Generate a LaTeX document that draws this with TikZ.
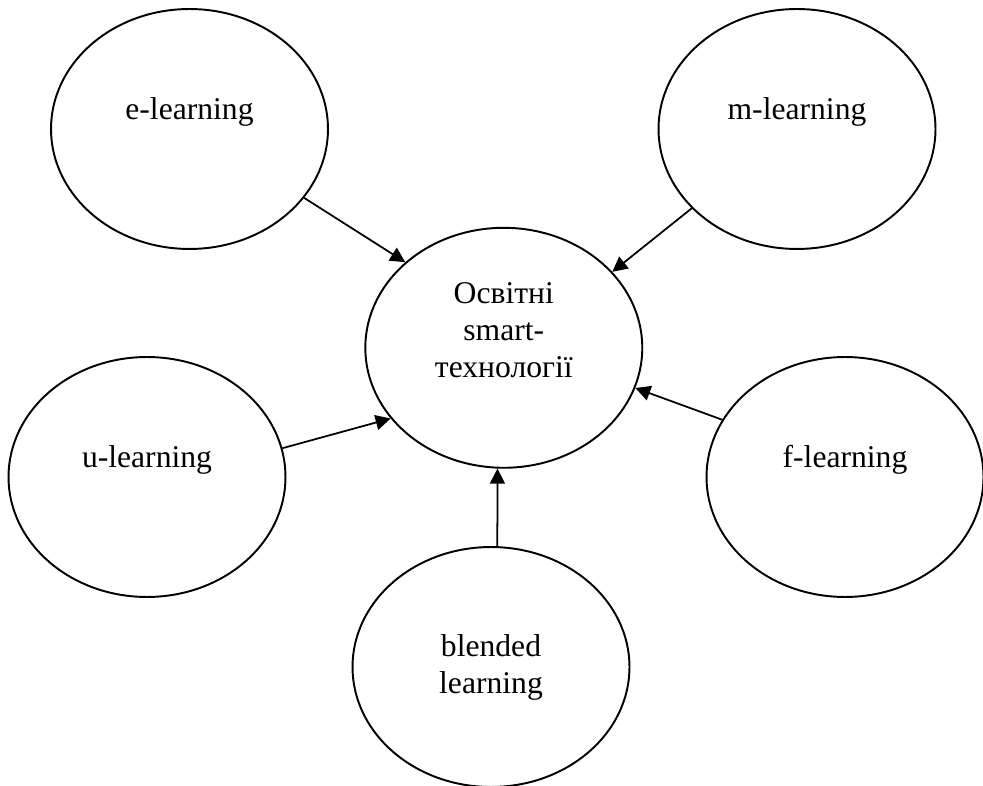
\documentclass[tikz,border=0pt]{standalone}
\usepackage{fontspec}
\setmainfont{Liberation Serif}
\usetikzlibrary{arrows.meta, shapes.geometric}

\begin{document}
\begin{tikzpicture}[
    x=0.02cm, y=-0.02cm,
    bub/.style={draw, ellipse, line width=1.1pt, minimum width=5.54cm, minimum height=4.8cm, inner sep=0pt, align=center, font=\fontsize{18}{21}\selectfont},
    lift/.style={text height=0pt, text depth=10.8pt},
    arrow/.style={-{Triangle[length=0.3cm, width=0.3cm]}, line width=1pt}
]
\useasboundingbox (0,0) rectangle (983,786);
\node[bub, text height=38pt, text depth=4pt] (c) at (503.8,347.8) {Освітні\\smart-\\технології};
\node[bub, lift] (e) at (189.5,129) {e-learning};
\node[bub, lift] (m) at (797,129) {m-learning};
\node[bub, lift] (u) at (147,477) {u-learning};
\node[bub, lift] (f) at (845,477) {f-learning};
\node[bub] (b) at (491,667) {blended\\learning};
\draw[arrow] (e.-31.7) -- (c.139.9);
\draw[arrow] (m.-143.9) -- (c.35.1);
\draw[arrow] (u.12.1) -- (c.-148.4);
\draw[arrow] (f.155.9) -- (c.-17.8);
\draw[arrow] (b.87) -- (c.-93);
\end{tikzpicture}
\end{document}
